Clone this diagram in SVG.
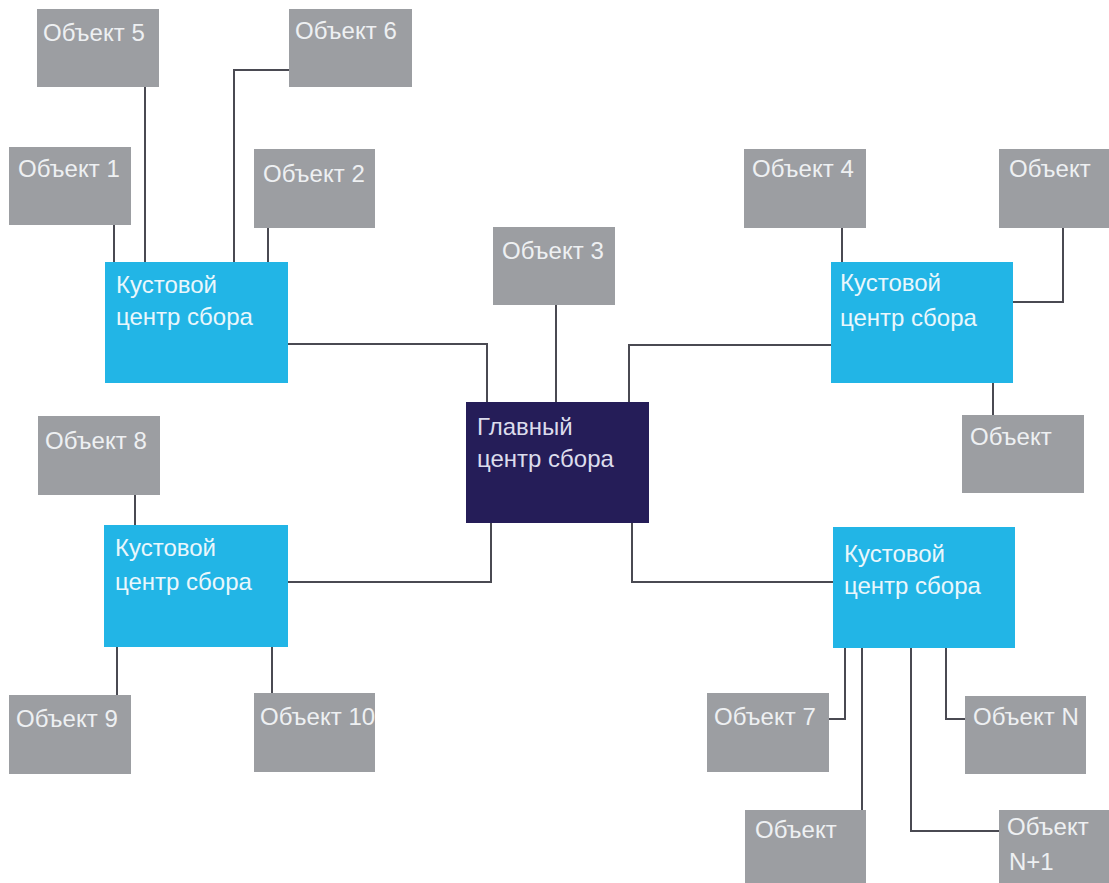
<svg xmlns="http://www.w3.org/2000/svg" width="1109" height="883" viewBox="0 0 1109 883">
<style>
.obj{fill:#9c9ea2}
.kc{fill:#22b5e6}
.main{fill:#251d58}
.t{font-family:"Liberation Sans",Arial,sans-serif;font-size:24px}
.to{fill:#eef0f2}
.tk{fill:#eaf7fc}
.tm{fill:#dcdcec}
.c{fill:none;stroke:#4a4a52;stroke-width:2}
</style>
<rect width="1109" height="883" fill="#ffffff"/>
<g id="connectors">
<path class="c" d="M145,87 V262"/>
<path class="c" d="M114,225 V262"/>
<path class="c" d="M289,70 H234 V262"/>
<path class="c" d="M268,228 V262"/>
<path class="c" d="M288,344 H487 V402"/>
<path class="c" d="M556,305 V402"/>
<path class="c" d="M629,402 V345 H831"/>
<path class="c" d="M842,228 V262"/>
<path class="c" d="M1063,228 V302 H1013"/>
<path class="c" d="M993,383 V415"/>
<path class="c" d="M135,495 V525"/>
<path class="c" d="M288,582 H491 V523"/>
<path class="c" d="M632,523 V582 H833"/>
<path class="c" d="M117,647 V695"/>
<path class="c" d="M272,647 V693"/>
<path class="c" d="M845,648 V719 H829"/>
<path class="c" d="M862,648 V810"/>
<path class="c" d="M911,648 V831 H999"/>
<path class="c" d="M946,648 V719 H965"/>
</g>
<g id="obj5"><rect class="obj" x="37" y="9" width="122" height="78"/><text class="t to" x="43" y="41">Объект 5</text></g>
<g id="obj6"><rect class="obj" x="289" y="9" width="123" height="78"/><text class="t to" x="295" y="39">Объект 6</text></g>
<g id="obj1"><rect class="obj" x="9" y="147" width="122" height="78"/><text class="t to" x="18" y="177">Объект 1</text></g>
<g id="obj2"><rect class="obj" x="254" y="149" width="121" height="79"/><text class="t to" x="263" y="182">Объект 2</text></g>
<g id="kc1"><rect class="kc" x="105" y="262" width="183" height="121"/><text class="t tk" x="116" y="293">Кустовой</text><text class="t tk" x="116" y="325">центр сбора</text></g>
<g id="obj3"><rect class="obj" x="493" y="227" width="122" height="78"/><text class="t to" x="502" y="259">Объект 3</text></g>
<g id="main"><rect class="main" x="466" y="402" width="183" height="121"/><text class="t tm" x="477" y="435">Главный</text><text class="t tm" x="477" y="467">центр сбора</text></g>
<g id="obj4"><rect class="obj" x="744" y="149" width="122" height="79"/><text class="t to" x="752" y="177">Объект 4</text></g>
<g id="objTR"><rect class="obj" x="999" y="149" width="110" height="79"/><text class="t to" x="1009" y="177">Объект</text></g>
<g id="kc2"><rect class="kc" x="831" y="262" width="182" height="121"/><text class="t tk" x="840" y="291">Кустовой</text><text class="t tk" x="840" y="326">центр сбора</text></g>
<g id="objR"><rect class="obj" x="962" y="415" width="122" height="78"/><text class="t to" x="970" y="445">Объект</text></g>
<g id="obj8"><rect class="obj" x="38" y="416" width="122" height="79"/><text class="t to" x="45" y="449">Объект 8</text></g>
<g id="kc3"><rect class="kc" x="104" y="525" width="184" height="122"/><text class="t tk" x="115" y="556">Кустовой</text><text class="t tk" x="115" y="590">центр сбора</text></g>
<g id="obj9"><rect class="obj" x="9" y="695" width="122" height="79"/><text class="t to" x="16" y="727">Объект 9</text></g>
<g id="obj10"><rect class="obj" x="254" y="693" width="121" height="79"/><text class="t to" x="260" y="725">Объект 10</text></g>
<g id="kc4"><rect class="kc" x="833" y="527" width="182" height="121"/><text class="t tk" x="844" y="562">Кустовой</text><text class="t tk" x="844" y="594">центр сбора</text></g>
<g id="obj7"><rect class="obj" x="707" y="693" width="122" height="79"/><text class="t to" x="714" y="725">Объект 7</text></g>
<g id="objN"><rect class="obj" x="965" y="696" width="121" height="78"/><text class="t to" x="973" y="725">Объект N</text></g>
<g id="objB"><rect class="obj" x="745" y="810" width="121" height="73"/><text class="t to" x="755" y="838">Объект</text></g>
<g id="objN1"><rect class="obj" x="999" y="810" width="110" height="73"/><text class="t to" x="1007" y="835">Объект</text><text class="t to" x="1009" y="870">N+1</text></g>
</svg>
